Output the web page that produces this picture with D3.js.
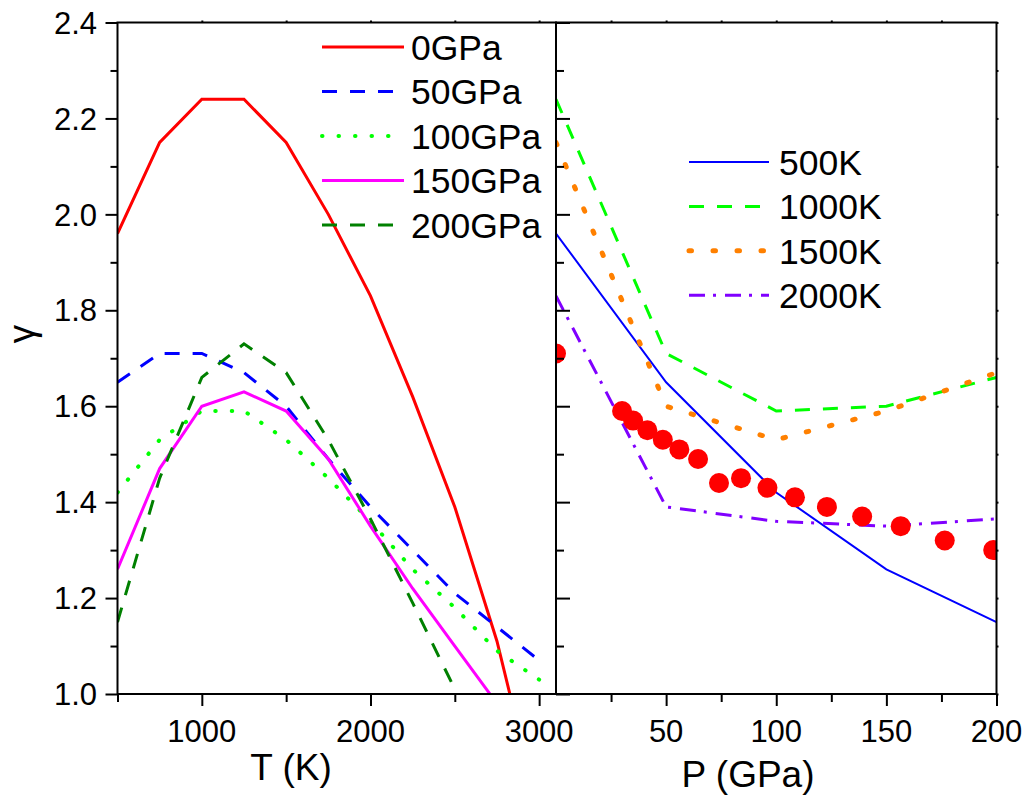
<!DOCTYPE html>
<html>
<head>
<meta charset="utf-8">
<script src="https://cdn.jsdelivr.net/npm/d3@7"></script>
<style>
  body { margin: 0; background: #fff; }
  text { font-family: "Liberation Sans", Arial, sans-serif; fill: #000; }
</style>
</head>
<body>
<div id="chart"></div>
<script>
// Frame size
const FRAME_WIDTH = 1030;
const FRAME_HEIGHT = 801;

// Temperatures (K) of the left panel and the pressure of each curve (GPa)
const temps = [500, 750, 1000, 1250, 1500, 1750, 2000, 2250, 2500, 2750, 3000];
const pressures = [0, 50, 100, 150, 200];

// gamma along T for each pressure
const gamma0   = [1.96, 2.15, 2.24, 2.24, 2.15, 2.00, 1.83, 1.62, 1.39, 1.11, 0.75];
const gamma50  = [1.65, 1.71, 1.71, 1.67, 1.60, 1.49, 1.39, 1.30, 1.21, 1.14, 1.07];
const gamma100 = [1.42, 1.53, 1.59, 1.59, 1.53, 1.45, 1.36, 1.26, 1.18, 1.09, 1.03];
const gamma150 = [1.26, 1.47, 1.60, 1.63, 1.59, 1.49, 1.35, 1.22, 1.10, 0.98, 0.86];
const gamma200 = [1.15, 1.45, 1.66, 1.73, 1.67, 1.53, 1.365, 1.19, 1.01, 0.82, 0.64];

// isotherms shown in the right panel
const isoTemps = [500, 1000, 1500, 2000];

// red points of the right panel
const expP     = [0, 30, 35, 41.5, 48.5, 56, 64.5, 74, 84, 96, 108.5, 123, 139, 156.5, 176.5, 198.5];
const expGamma = [1.71, 1.59, 1.57, 1.55, 1.53, 1.51, 1.49, 1.44, 1.45, 1.43, 1.41, 1.39, 1.37, 1.35, 1.32, 1.30];

// tick labels
const yTicks = [1.0, 1.2, 1.4, 1.6, 1.8, 2.0, 2.2, 2.4];
const tTicks = [1000, 2000, 3000];
const pTicks = [50, 100, 150, 200];

// panel geometry
const TOP = 22.5, BOTTOM = 694;
const LEFT = 117.5, MID = 556, RIGHT = 996.5;

const svg = d3.select("#chart").append("svg")
    .attr("width", FRAME_WIDTH)
    .attr("height", FRAME_HEIGHT);

const yScale = d3.scaleLinear().domain([1.0, 2.4]).range([BOTTOM, TOP]);
const tScale = d3.scaleLinear().domain([500, 3100]).range([LEFT, MID]);
const pScale = d3.scaleLinear().domain([0, 200]).range([MID, RIGHT]);

// clip paths for each panel
const defs = svg.append("defs");
defs.append("clipPath").attr("id", "clipL").append("rect")
    .attr("x", LEFT).attr("y", TOP).attr("width", MID - LEFT).attr("height", BOTTOM - TOP);
defs.append("clipPath").attr("id", "clipR").append("rect")
    .attr("x", MID).attr("y", TOP).attr("width", RIGHT - MID).attr("height", BOTTOM - TOP);

// ---------- left panel curves ----------
const leftSeries = [
  {name: "0GPa",   values: gamma0,   color: "#ff0000", dash: null,      width: 3, cap: "butt"},
  {name: "50GPa",  values: gamma50,  color: "#0000ff", dash: "15,13",   width: 3, cap: "butt"},
  {name: "100GPa", values: gamma100, color: "#00ff00", dash: "0.5,16",  width: 4, cap: "round"},
  {name: "150GPa", values: gamma150, color: "#ff00ff", dash: null,      width: 3, cap: "butt"},
  {name: "200GPa", values: gamma200, color: "#008000", dash: "15,13",   width: 3, cap: "butt"}
];

const lineL = d3.line()
    .x((d) => tScale(d.t))
    .y((d) => yScale(d.g));

const gL = svg.append("g").attr("clip-path", "url(#clipL)");
leftSeries.forEach((s) => {
  gL.append("path")
      .datum(temps.map((t, i) => ({t: t, g: s.values[i]})))
      .attr("d", lineL)
      .attr("fill", "none")
      .attr("stroke", s.color)
      .attr("stroke-width", s.width)
      .attr("stroke-linecap", s.cap)
      .attr("stroke-dasharray", s.dash);
});

// ---------- right panel curves ----------
const byPressure = [gamma0, gamma50, gamma100, gamma150, gamma200];
const rightStyles = [
  {color: "#0000ff", dash: null,        width: 2,   cap: "butt"},
  {color: "#00ff00", dash: "15,13",     width: 3,   cap: "butt"},
  {color: "#ff8000", dash: "2.5,21.5",  width: 5,   cap: "round"},
  {color: "#8000ff", dash: "16,8,3,9",  width: 3,   cap: "butt"}
];

const lineR = d3.line()
    .x((d) => pScale(d.p))
    .y((d) => yScale(d.g));

const gR = svg.append("g").attr("clip-path", "url(#clipR)");
isoTemps.forEach((T, k) => {
  const idx = temps.indexOf(T);
  const st = rightStyles[k];
  gR.append("path")
      .datum(pressures.map((p, i) => ({p: p, g: byPressure[i][idx]})))
      .attr("d", lineR)
      .attr("fill", "none")
      .attr("stroke", st.color)
      .attr("stroke-width", st.width)
      .attr("stroke-linecap", st.cap)
      .attr("stroke-dasharray", st.dash);
});

gR.selectAll(".dot")
    .data(expP.map((p, i) => ({p: p, g: expGamma[i]})))
    .enter()
    .append("circle")
      .attr("class", "dot")
      .attr("cx", (d) => pScale(d.p))
      .attr("cy", (d) => yScale(d.g))
      .attr("r", 10)
      .attr("fill", "#ff0000");

// ---------- axes ----------
function styleAxis(g) {
  g.select(".domain").remove();
  g.selectAll("line").attr("stroke", "#000").attr("stroke-width", 2);
}

// left y axis: major outward 12, minor 7
svg.append("g").attr("transform", `translate(${LEFT},0)`)
    .call(d3.axisLeft(yScale).tickValues(yTicks).tickSize(12).tickFormat(""))
    .call(styleAxis);
svg.append("g").attr("transform", `translate(${LEFT},0)`)
    .call(d3.axisLeft(yScale).tickValues(d3.range(1.1, 2.4, 0.2)).tickSize(7).tickFormat(""))
    .call(styleAxis);

// y tick labels
svg.append("g").selectAll("text")
    .data(yTicks)
    .enter().append("text")
      .attr("x", 97)
      .attr("y", (d) => yScale(d))
      .attr("dy", "0.36em")
      .attr("text-anchor", "end")
      .style("font-size", "31px")
      .text((d) => d3.format(".1f")(d));

// divider ticks pointing into the right panel
svg.append("g").attr("transform", `translate(${MID},0)`)
    .call(d3.axisRight(yScale).tickValues(yTicks).tickSize(14).tickFormat(""))
    .call(styleAxis);
svg.append("g").attr("transform", `translate(${MID},0)`)
    .call(d3.axisRight(yScale).tickValues(d3.range(1.1, 2.4, 0.2)).tickSize(8).tickFormat(""))
    .call(styleAxis);

// right border small stubs
svg.append("g").attr("transform", `translate(${RIGHT},0)`)
    .call(d3.axisRight(yScale).tickValues(d3.range(1.0, 2.41, 0.1)).tickSize(2).tickFormat(""))
    .call(styleAxis);

// left bottom axis
svg.append("g").attr("transform", `translate(0,${BOTTOM})`)
    .call(d3.axisBottom(tScale).tickValues(tTicks).tickSize(12).tickFormat(""))
    .call(styleAxis);
svg.append("g").attr("transform", `translate(0,${BOTTOM})`)
    .call(d3.axisBottom(tScale).tickValues([500, 1500, 2500]).tickSize(8).tickFormat(""))
    .call(styleAxis);
svg.append("g").attr("transform", `translate(0,${TOP})`)
    .call(d3.axisTop(tScale).tickValues([1000, 1500, 2000, 2500, 3000]).tickSize(2).tickFormat(""))
    .call(styleAxis);

// right bottom axis
svg.append("g").attr("transform", `translate(0,${BOTTOM})`)
    .call(d3.axisBottom(pScale).tickValues(pTicks).tickSize(12).tickFormat(""))
    .call(styleAxis);
svg.append("g").attr("transform", `translate(0,${BOTTOM})`)
    .call(d3.axisBottom(pScale).tickValues([25, 75, 125, 175]).tickSize(8).tickFormat(""))
    .call(styleAxis);
svg.append("g").attr("transform", `translate(0,${TOP})`)
    .call(d3.axisTop(pScale).tickValues([25, 50, 75, 100, 125, 150, 175]).tickSize(2).tickFormat(""))
    .call(styleAxis);

// x tick labels
svg.append("g").selectAll("text")
    .data(tTicks)
    .enter().append("text")
      .attr("x", (d) => tScale(d))
      .attr("y", 742)
      .attr("text-anchor", "middle")
      .style("font-size", "31px")
      .text((d) => d);
svg.append("g").selectAll("text")
    .data(pTicks)
    .enter().append("text")
      .attr("x", (d) => pScale(d))
      .attr("y", 742)
      .attr("text-anchor", "middle")
      .style("font-size", "31px")
      .text((d) => d);

// frames
[[LEFT, MID], [MID, RIGHT]].forEach((r) => {
  svg.append("rect")
      .attr("x", r[0]).attr("y", TOP)
      .attr("width", r[1] - r[0]).attr("height", BOTTOM - TOP)
      .attr("fill", "none")
      .attr("stroke", "#000")
      .attr("stroke-width", 2);
});

// axis titles
svg.append("text")
    .attr("x", 291).attr("y", 780)
    .attr("text-anchor", "middle")
    .style("font-size", "37px")
    .text("T (K)");
svg.append("text")
    .attr("x", 748).attr("y", 787)
    .attr("text-anchor", "middle")
    .style("font-size", "37px")
    .text("P (GPa)");
svg.append("text")
    .attr("transform", "translate(34,334) rotate(-90)")
    .attr("text-anchor", "middle")
    .style("font-size", "37px")
    .text("γ");

// ---------- legends ----------
const legL = svg.append("g");
leftSeries.forEach((s, i) => {
  const y = 47 + i * 44.5;
  legL.append("line")
      .attr("x1", 322).attr("x2", 404)
      .attr("y1", y).attr("y2", y)
      .attr("stroke", s.color)
      .attr("stroke-width", s.width)
      .attr("stroke-linecap", s.cap)
      .attr("stroke-dasharray", s.dash);
  legL.append("text")
      .attr("x", 411).attr("y", y)
      .attr("dy", "0.36em")
      .style("font-size", "35.5px")
      .text(s.name);
});

const legR = svg.append("g");
isoTemps.forEach((T, i) => {
  const y = 162 + i * 44.4;
  const st = rightStyles[i];
  legR.append("line")
      .attr("x1", 689).attr("x2", 769)
      .attr("y1", y).attr("y2", y)
      .attr("stroke", st.color)
      .attr("stroke-width", st.width)
      .attr("stroke-linecap", st.cap)
      .attr("stroke-dasharray", st.dash);
  legR.append("text")
      .attr("x", 779).attr("y", y)
      .attr("dy", "0.36em")
      .style("font-size", "35.5px")
      .text(T + "K");
});
</script>
</body>
</html>
